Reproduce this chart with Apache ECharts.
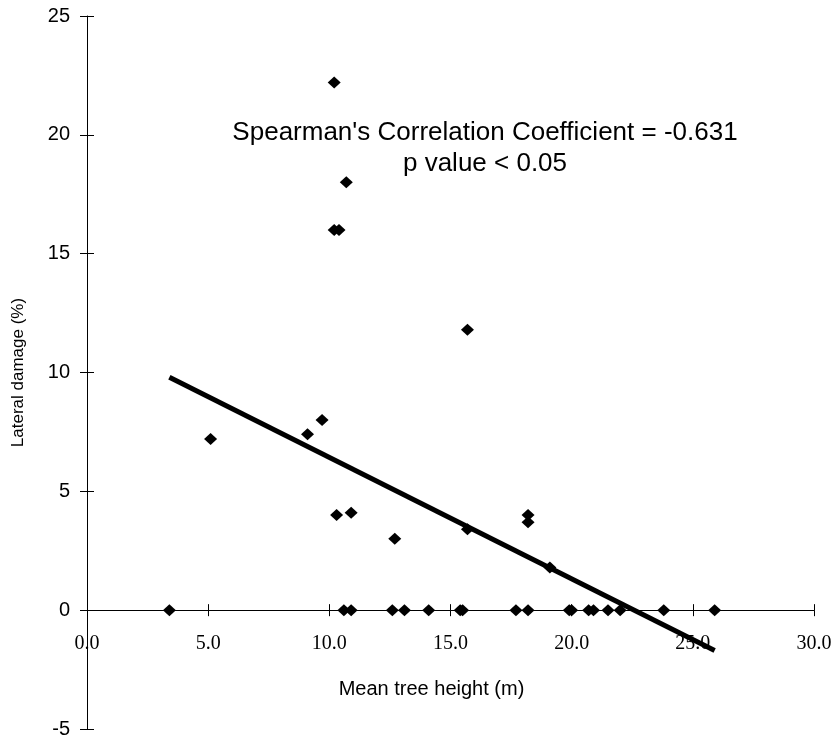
<!DOCTYPE html>
<html>
<head>
<meta charset="utf-8">
<script src="https://cdn.jsdelivr.net/npm/echarts@6/dist/echarts.min.js"></script>
<style>
  html, body { margin: 0; padding: 0; background: #fff; }
  #chart { width: 839px; height: 740px; }
</style>
</head>
<body>
<div id="chart"></div>
<script>
// tree height (m) vs lateral damage (%)
const heightX = [5.1, 9.1, 9.7, 10.2, 10.2, 10.4, 10.7, 10.3, 10.9, 12.7, 15.7, 15.7, 18.2, 18.2, 19.1,
    3.4, 10.6, 10.9, 12.6, 13.1, 14.1, 15.4, 15.5, 17.7, 18.2, 19.9, 20.0, 20.7, 20.9, 21.5, 22.0, 23.8, 25.9];
const damageY = [7.2, 7.4, 8.0, 22.2, 16.0, 16.0, 18.0, 4.0, 4.1, 3.0, 11.8, 3.4, 4.0, 3.7, 1.8,
    0, 0, 0, 0, 0, 0, 0, 0, 0, 0, 0, 0, 0, 0, 0, 0, 0, 0];

// fitted trend line end points
const trendX = [3.4, 25.9];
const trendY = [9.8, -1.7];

const statLines = ["Spearman's Correlation Coefficient = -0.631", 'p value < 0.05'];

var chart = echarts.init(document.getElementById('chart'));

var points = heightX.map(function (x, i) { return [x, damageY[i]]; });
var trend = trendX.map(function (x, i) { return [x, trendY[i]]; });

var axisLine = { show: true, onZero: true, lineStyle: { color: '#000', width: 1 } };

chart.setOption({
    backgroundColor: '#fff',
    animation: false,
    grid: [
        { left: 87, top: 16, width: 727, height: 713, outerBoundsMode: 'none' },
        // upper half only: its bottom edge sits on y = 0, used for the x labels
        { left: 87, top: 16, width: 727, height: 594, outerBoundsMode: 'none' }
    ],
    xAxis: [{
        type: 'value',
        min: 0, max: 30, interval: 5,
        axisLine: axisLine,
        axisTick: { show: true, inside: false, length: 6, lineStyle: { color: '#000' } },
        axisLabel: { show: false },
        splitLine: { show: false }
    }, {
        // inner half of the crossing ticks
        type: 'value',
        min: 0, max: 30, interval: 5,
        position: 'bottom',
        axisLine: { show: false, onZero: true },
        axisTick: { show: true, inside: true, length: 6, lineStyle: { color: '#000' } },
        axisLabel: { show: false },
        splitLine: { show: false }
    }, {
        gridIndex: 1,
        type: 'value',
        min: 0, max: 30, interval: 5,
        name: 'Mean tree height (m)',
        nameLocation: 'middle',
        nameGap: 69,
        nameTextStyle: { fontFamily: 'Liberation Sans', fontSize: 20, color: '#000', padding: [0, 38, 0, 0] },
        axisLine: { show: false },
        axisTick: { show: false },
        axisLabel: {
            margin: 24,
            fontFamily: 'Liberation Serif', fontSize: 20, color: '#000',
            formatter: function (v) { return v.toFixed(1); }
        },
        splitLine: { show: false }
    }],
    yAxis: [{
        type: 'value',
        min: -5, max: 25, interval: 5,
        name: 'Lateral damage (%)',
        nameLocation: 'middle',
        nameGap: 60,
        nameTextStyle: { fontFamily: 'Liberation Sans', fontSize: 17, color: '#000' },
        axisLine: axisLine,
        axisTick: { show: true, inside: false, length: 7, lineStyle: { color: '#000' } },
        axisLabel: { margin: 17, fontFamily: 'Liberation Sans', fontSize: 20, color: '#000' },
        splitLine: { show: false }
    }, {
        type: 'value',
        min: -5, max: 25, interval: 5,
        position: 'left',
        axisLine: { show: false },
        axisTick: { show: true, inside: true, length: 7, lineStyle: { color: '#000' } },
        axisLabel: { show: false },
        splitLine: { show: false }
    }, {
        gridIndex: 1,
        type: 'value',
        min: 0, max: 25,
        show: false
    }],
    graphic: [{
        type: 'text',
        x: 485, y: 117,
        style: {
            text: statLines.join('\n'),
            align: 'center',
            lineHeight: 31,
            fill: '#000',
            font: '26px "Liberation Sans"'
        }
    }],
    series: [{
        type: 'scatter',
        data: points,
        symbol: 'diamond',
        symbolSize: [13, 12],
        itemStyle: { color: '#000', opacity: 1 },
        z: 3
    }, {
        type: 'line',
        data: trend,
        symbol: 'none',
        lineStyle: { color: '#000', width: 5 },
        z: 4
    }]
});
</script>
</body>
</html>
